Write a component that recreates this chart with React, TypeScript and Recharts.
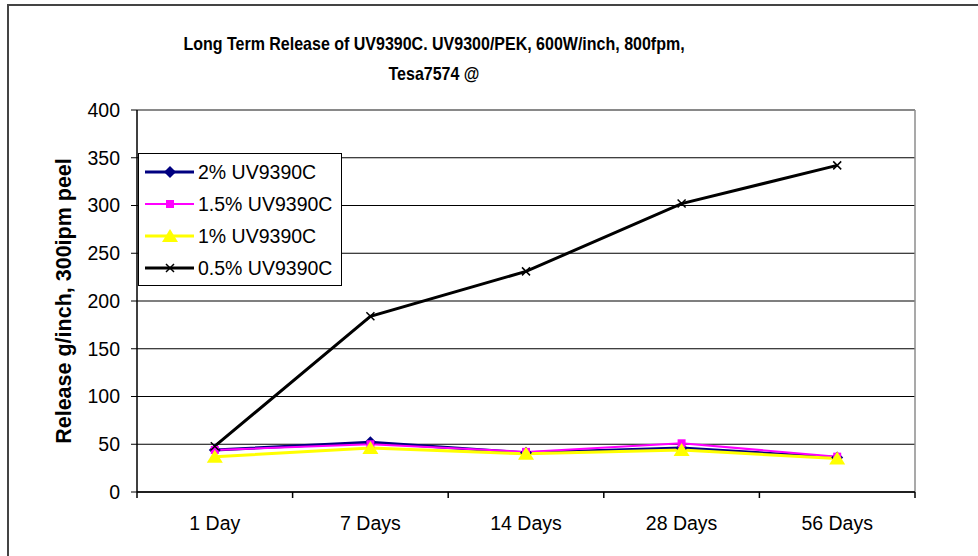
import { LineChart, Line, XAxis, YAxis, CartesianGrid, Legend } from "recharts";

const categories = ["1 Day", "7 Days", "14 Days", "28 Days", "56 Days"];
const uv2 = [44, 52, 41, 46, 36];
const uv15 = [44, 50, 42, 51, 37];
const uv1 = [37, 46, 40, 44, 35];
const uv05 = [48, 184, 231, 302, 342];
const yTicks = [0, 50, 100, 150, 200, 250, 300, 350, 400];

const data = categories.map((name, i) => ({
  name,
  uv2: uv2[i],
  uv15: uv15[i],
  uv1: uv1[i],
  uv05: uv05[i],
}));

const FONT = "'Liberation Sans', Arial, sans-serif";
const W = 978;
const H = 556;
const PLOT_LEFT = 137;
const PLOT_RIGHT = 915;
const BAND = (PLOT_RIGHT - PLOT_LEFT) / categories.length;

type Shape = "diamond" | "square" | "triangle" | "x";

const series: { key: string; name: string; color: string; width: number; shape: Shape }[] = [
  { key: "uv2", name: "2% UV9390C", color: "#000080", width: 3, shape: "diamond" },
  { key: "uv15", name: "1.5% UV9390C", color: "#FF00FF", width: 2, shape: "square" },
  { key: "uv1", name: "1% UV9390C", color: "#FFFF00", width: 3, shape: "triangle" },
  { key: "uv05", name: "0.5% UV9390C", color: "#000000", width: 3, shape: "x" },
];

const Marker = ({ shape, cx, cy, color }: { shape: Shape; cx: number; cy: number; color: string }) => {
  if (shape === "diamond") {
    return <polygon points={`${cx},${cy - 6} ${cx + 6},${cy} ${cx},${cy + 6} ${cx - 6},${cy}`} fill={color} />;
  }
  if (shape === "square") {
    return <rect x={cx - 4} y={cy - 4} width={8} height={8} fill={color} />;
  }
  if (shape === "triangle") {
    return <polygon points={`${cx},${cy - 7} ${cx + 8},${cy + 6} ${cx - 8},${cy + 6}`} fill={color} />;
  }
  return (
    <path
      d={`M${cx - 4},${cy - 4}L${cx + 4},${cy + 4}M${cx - 4},${cy + 4}L${cx + 4},${cy - 4}`}
      stroke={color}
      strokeWidth={1.5}
    />
  );
};

const XTick = (props: any) => {
  const { x, y, payload, index } = props;
  const last = index === categories.length - 1;
  return (
    <g>
      <line x1={x - BAND / 2} y1={y} x2={x - BAND / 2} y2={y + 6} stroke="#000" strokeWidth={1.5} />
      {last && <line x1={x + BAND / 2} y1={y} x2={x + BAND / 2} y2={y + 6} stroke="#000" strokeWidth={1.5} />}
      <text x={x} y={y + 38} textAnchor="middle" fontSize={19.5} fontFamily={FONT} fill="#000">
        {payload.value}
      </text>
    </g>
  );
};

const LegendBox = () => (
  <div
    style={{
      border: "1px solid #000",
      background: "#fff",
      width: 202,
      height: 129,
      boxSizing: "content-box",
      paddingTop: 2,
    }}
  >
    {series.map((s) => (
      <div key={s.key} style={{ display: "flex", alignItems: "center", height: 32 }}>
        <svg width={59} height={20} style={{ display: "block" }}>
          <line x1={6} y1={10} x2={55} y2={10} stroke={s.color} strokeWidth={s.width} />
          <Marker shape={s.shape} cx={31} cy={10} color={s.color} />
        </svg>
        <span style={{ fontFamily: FONT, fontSize: 19.5, color: "#000", whiteSpace: "nowrap" }}>{s.name}</span>
      </div>
    ))}
  </div>
);

const YLabel = () => (
  <text
    x={0}
    y={0}
    transform="translate(71,301) rotate(-90)"
    textAnchor="middle"
    fontSize={21.5}
    fontWeight="bold"
    fontFamily={FONT}
    fill="#000"
  >
    Release g/inch, 300ipm peel
  </text>
);

const App = () => {
  return (
    <div style={{ position: "absolute", left: 0, top: 0, width: W, height: H, overflow: "hidden", background: "#fff" }}>
      <div
        style={{
          position: "absolute",
          left: 7,
          top: 4,
          width: W,
          height: H,
          borderLeft: "2px solid #444",
          borderTop: "2px solid #444",
        }}
      />
      <div
        style={{
          position: "absolute",
          left: 0,
          top: 33,
          width: 868,
          height: 50,
          textAlign: "center",
          fontFamily: FONT,
          fontWeight: "bold",
          fontSize: 16,
          lineHeight: "25px",
          color: "#000",
          transform: "scale(1, 1.2)",
          transformOrigin: "50% 50%",
        }}
      >
        Long Term Release of UV9390C. UV9300/PEK, 600W/inch, 800fpm,
        <br />
        Tesa7574 @
      </div>
      <LineChart
        width={W}
        height={H}
        data={data}
        margin={{ top: 110, right: W - PLOT_RIGHT, left: 0, bottom: 0 }}
        style={{ position: "absolute", left: 0, top: 0 }}
      >
        <CartesianGrid vertical={false} stroke="#000" strokeWidth={1.2} />
        <CartesianGrid
          stroke="#8c8c8c"
          strokeWidth={1.5}
          horizontalCoordinatesGenerator={({ offset }: any) => [offset.top]}
          verticalCoordinatesGenerator={({ offset }: any) => [offset.left + offset.width]}
        />
        <XAxis
          dataKey="name"
          height={64}
          padding={{ left: BAND / 2, right: BAND / 2 }}
          axisLine={{ stroke: "#000", strokeWidth: 1.5 }}
          tickLine={false}
          tickSize={0}
          tickMargin={0}
          tick={<XTick />}
          interval={0}
        />
        <YAxis
          width={PLOT_LEFT}
          domain={[0, 400]}
          ticks={yTicks}
          interval={0}
          axisLine={{ stroke: "#000", strokeWidth: 1.5 }}
          tickLine={{ stroke: "#000" }}
          tickSize={6}
          tickMargin={11}
          tick={{ fontSize: 19.5, fontFamily: FONT, fill: "#000" }}
          label={{ content: () => <YLabel /> }}
        />
        {series.map((s) => (
          <Line
            key={s.key}
            type="linear"
            dataKey={s.key}
            name={s.name}
            stroke={s.color}
            strokeWidth={s.width}
            isAnimationActive={false}
            dot={(p: any) => (
              <Marker key={`${s.key}-${p.index}`} shape={s.shape} cx={p.cx} cy={p.cy} color={s.color} />
            )}
            activeDot={false}
          />
        ))}
        <Legend
          layout="vertical"
          align="center"
          verticalAlign="middle"
          content={() => <LegendBox />}
          wrapperStyle={{ position: "absolute", left: 138, top: 153, width: 206, height: 134 }}
        />
      </LineChart>
    </div>
  );
};

export default App;
